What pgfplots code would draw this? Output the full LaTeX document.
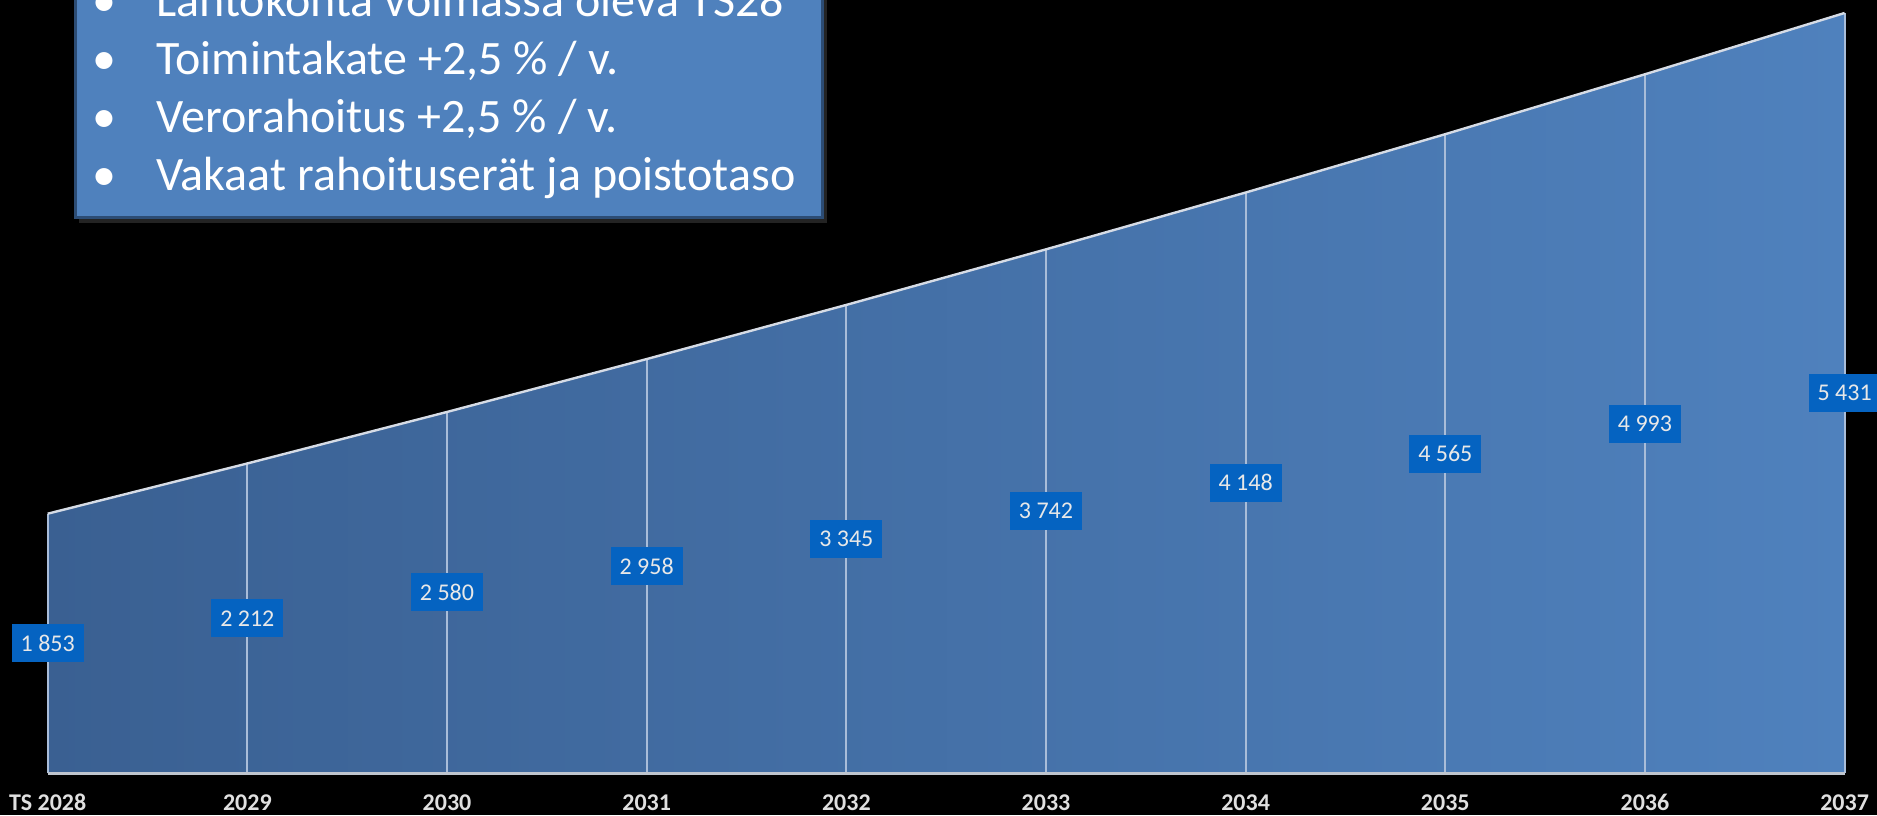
\documentclass[border=0pt]{standalone}
\usepackage{fontspec}
\setmainfont{Carlito}
\usepackage{pgfplots}
\pgfplotsset{compat=1.18}
\usepackage{pgfplotstable}

\definecolor{areaL}{HTML}{3A6092}
\definecolor{areaR}{HTML}{4F81BD}
\definecolor{lblbox}{HTML}{0563C1}
\definecolor{lbltext}{HTML}{E8E8E8}
\definecolor{ticktext}{HTML}{E0E0E0}
\definecolor{boxfill}{HTML}{4F81BD}
\definecolor{boxedge}{HTML}{2C4C74}
\definecolor{dropln}{HTML}{A9BDD9}
\definecolor{topln}{HTML}{D6DCE6}
\definecolor{baseln}{HTML}{BFC5CE}

% TS-ennuste, kertynyt
\pgfplotstableread{
x v
0 1853
1 2212
2 2580
3 2958
4 3345
5 3742
6 4148
7 4565
8 4993
9 5431
}\tsdata

\begin{document}
\begin{tikzpicture}
\path[use as bounding box] (0pt,0pt) rectangle (938.5pt,407.5pt);
\clip (0pt,0pt) rectangle (938.5pt,407.5pt);
\fill[black] (0pt,0pt) rectangle (938.5pt,407.5pt);

\begin{axis}[
    at={(23.85pt,21pt)}, anchor=south west,
    scale only axis,
    width=898.45pt, height=380pt,
    xmin=0, xmax=9, ymin=0, ymax=5431,
    xtick={0,...,9},
    xticklabels={TS 2028,2029,2030,2031,2032,2033,2034,2035,2036,2037},
    ytick=\empty,
    axis line style={draw=none},
    major tick length=0pt,
    xticklabel style={font=\bfseries\fontsize{12}{13}\selectfont, text=ticktext, anchor=base, yshift=-18.5pt},
    clip=false,
    /pgf/number format/assume math mode=true,
    /pgf/number format/1000 sep={\ },
]
\addplot[draw=none, left color=areaL, right color=areaR] table[x=x,y=v]{\tsdata} \closedcycle;
\addplot[ycomb, draw=dropln, line width=1pt] table[x=x,y=v]{\tsdata};
\addplot[draw=topln, line width=1.2pt] table[x=x,y=v]{\tsdata};
\draw[baseln, line width=1.5pt] (axis cs:0,0) -- (axis cs:9,0);
\addplot[draw=none, mark=none, point meta=explicit,
    nodes near coords, nodes near coords align=center,
    every node near coord/.append style={fill=lblbox, text=lbltext,
        font=\fontsize{12}{13}\selectfont, inner xsep=4.5pt, inner ysep=0pt,
        minimum height=19pt}]
    table[x=x, y expr=\thisrow{v}/2, meta=v]{\tsdata};
\end{axis}

% tekstilaatikko
\fill[black!80, opacity=0.7] (39.5pt,296pt) rectangle (413.5pt,420pt);
\draw[fill=boxfill, draw=boxedge, line width=1.5pt] (37.5pt,298.5pt) rectangle (411pt,420pt);
\begin{scope}[every node/.style={text=white, font=\fontsize{24}{28}\selectfont, inner sep=0pt}]
\node[anchor=base] at (52pt,399pt) {\textbullet};
\node[anchor=base west] at (78pt,399pt) {Lähtökohta voimassa oleva TS28};
\node[anchor=base] at (52pt,370pt) {\textbullet};
\node[anchor=base west] at (78pt,370pt) {Toimintakate +2,5 \% / v.};
\node[anchor=base] at (52pt,341pt) {\textbullet};
\node[anchor=base west] at (78pt,341pt) {Verorahoitus +2,5 \% / v.};
\node[anchor=base] at (52pt,312pt) {\textbullet};
\node[anchor=base west] at (78pt,312pt) {Vakaat rahoituserät ja poistotaso};
\end{scope}
\end{tikzpicture}
\end{document}
